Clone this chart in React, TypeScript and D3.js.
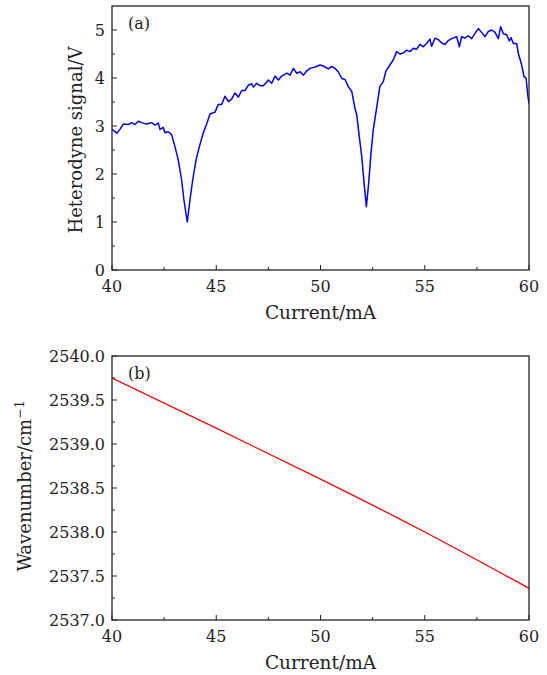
import React from "react";
import * as d3 from "d3";

const currentA = [
  40.0, 40.23, 40.38, 40.54, 40.78, 40.94, 41.1, 41.26, 41.42, 41.66, 41.9, 42.06, 42.22, 42.3, 42.46, 42.54,
  42.7, 42.86, 43.02, 43.18, 43.34, 43.45, 43.61, 43.74, 43.87, 44.03, 44.19, 44.38, 44.54, 44.7, 44.94,
  45.1, 45.26, 45.42, 45.58, 45.74, 45.9, 46.06, 46.22, 46.38, 46.54, 46.7, 46.78, 46.94, 47.1, 47.26,
  47.5, 47.66, 47.82, 47.98, 48.14, 48.38, 48.54, 48.7, 48.86, 49.02, 49.18, 49.34, 49.5, 49.74, 49.98,
  50.13, 50.37, 50.54, 50.7, 50.85, 51.02, 51.18, 51.33, 51.5, 51.65, 51.74, 51.86, 51.98, 52.09, 52.2,
  52.31, 52.42, 52.53, 52.7, 52.85, 53.01, 53.14, 53.33, 53.49, 53.65, 53.81, 53.97, 54.13, 54.29, 54.45,
  54.61, 54.77, 54.93, 55.09, 55.25, 55.33, 55.49, 55.65, 55.81, 55.97, 56.13, 56.29, 56.53, 56.66, 56.77,
  56.93, 57.09, 57.25, 57.41, 57.57, 57.73, 57.89, 58.05, 58.21, 58.37, 58.53, 58.64, 58.77, 58.93, 59.06,
  59.14, 59.25, 59.41, 59.49, 59.65, 59.76, 59.86, 59.94, 60.0,
];
const signalV = [
  2.93, 2.85, 2.93, 3.04, 3.03, 3.07, 3.03, 3.1, 3.07, 3.04, 3.07, 3.02, 3.06, 2.93, 2.97, 2.86,
  2.88, 2.82, 2.57, 2.29, 1.875, 1.46, 1.0, 1.46, 1.875, 2.29, 2.57, 2.86, 3.04, 3.25, 3.29,
  3.45, 3.45, 3.62, 3.51, 3.56, 3.69, 3.6, 3.74, 3.74, 3.85, 3.88, 3.81, 3.89, 3.84, 3.84,
  3.96, 3.89, 4.04, 3.96, 4.04, 4.1, 4.06, 4.2, 4.1, 4.13, 4.06, 4.15, 4.2, 4.23, 4.27,
  4.25, 4.19, 4.24, 4.2, 4.13, 3.99, 3.97, 3.82, 3.72, 3.37, 3.23, 2.78, 2.36, 1.81, 1.32,
  1.81, 2.43, 2.92, 3.4, 3.83, 3.92, 4.15, 4.27, 4.375, 4.55, 4.5, 4.52, 4.58, 4.55, 4.62,
  4.6, 4.7, 4.65, 4.72, 4.81, 4.66, 4.83, 4.8, 4.73, 4.7, 4.78, 4.82, 4.86, 4.65, 4.86,
  4.83, 4.88, 4.82, 4.93, 5.03, 4.95, 4.86, 4.97, 5.0, 4.95, 4.82, 5.07, 4.92, 4.9, 4.77,
  4.84, 4.72, 4.72, 4.51, 4.27, 4.03, 4.0, 3.65, 3.47,
];

const currentB = [40, 45, 50, 55, 60];
const wavenumber = [2539.75, 2539.18, 2538.6, 2538.0, 2537.36];

const xTicks = [40, 45, 50, 55, 60];
const yTicksA = [0, 1, 2, 3, 4, 5];
const yTicksB = [2537.0, 2537.5, 2538.0, 2538.5, 2539.0, 2539.5, 2540.0];

const FONT = "'DejaVu Serif', serif";
const INK = "#222";

const L = 112, R = 529;
const A_TOP = 6, A_BOT = 270;
const B_TOP = 356, B_BOT = 620;

function Frame({ top, bottom, x, y, yMajor, yMinor, yFmt, panel }: any) {
  const xMinor = d3.range(40, 60.01, 2.5).filter((v) => !xTicks.includes(v));
  return (
    <g>
      <rect x={L} y={top} width={R - L} height={bottom - top} fill="none" stroke={INK} strokeWidth={1.3} />
      {xTicks.map((t) => (
        <g key={"xt" + t}>
          <line x1={x(t)} x2={x(t)} y1={bottom} y2={bottom - 5} stroke={INK} strokeWidth={1} />
          <text x={x(t)} y={bottom + 22} textAnchor="middle" fontFamily={FONT} fontSize={16} fill={INK}>
            {t}
          </text>
        </g>
      ))}
      {xMinor.map((t) => (
        <line key={"xm" + t} x1={x(t)} x2={x(t)} y1={bottom} y2={bottom - 3} stroke={INK} strokeWidth={1} />
      ))}
      {yMajor.map((t: number) => (
        <g key={"yt" + t}>
          <line x1={L} x2={L + 5} y1={y(t)} y2={y(t)} stroke={INK} strokeWidth={1} />
          <text x={105} y={y(t)} dy="0.36em" textAnchor="end" fontFamily={FONT} fontSize={16} fill={INK}>
            {yFmt(t)}
          </text>
        </g>
      ))}
      {yMinor.map((t: number) => (
        <line key={"ym" + t} x1={L} x2={L + 3} y1={y(t)} y2={y(t)} stroke={INK} strokeWidth={1} />
      ))}
      <text x={128} y={top + 23} fontFamily={FONT} fontSize={16} fill={INK}>
        {panel}
      </text>
      <text x={(L + R) / 2} y={bottom + 49} textAnchor="middle" fontFamily={FONT} fontSize={18.5} fill={INK}>
        Current/mA
      </text>
    </g>
  );
}

export default function App() {
  const x = d3.scaleLinear().domain([40, 60]).range([L, R]);
  const yA = d3.scaleLinear().domain([0, 5.5]).range([A_BOT, A_TOP]);
  const yB = d3.scaleLinear().domain([2537, 2540]).range([B_BOT, B_TOP]);

  const lineA = d3
    .line<number>()
    .x((_, i) => x(currentA[i]))
    .y((d) => yA(d))(signalV) as string;
  const lineB = d3
    .line<number>()
    .x((_, i) => x(currentB[i]))
    .y((d) => yB(d))
    .curve(d3.curveNatural)(wavenumber) as string;

  const yMinorA = d3.range(0.5, 5.5, 1);
  const yMinorB = d3.range(2537.25, 2540, 0.5);

  return (
    <svg width={547} height={675} style={{ position: "absolute", left: 0, top: 0, background: "#fff" }}>
      <rect width={547} height={675} fill="#fff" />
      <defs>
        <clipPath id="clipA">
          <rect x={L} y={A_TOP} width={R - L} height={A_BOT - A_TOP} />
        </clipPath>
        <clipPath id="clipB">
          <rect x={L} y={B_TOP} width={R - L} height={B_BOT - B_TOP} />
        </clipPath>
      </defs>
      <path d={lineA} fill="none" stroke="#0000ff" strokeWidth={1.5} strokeLinejoin="round" clipPath="url(#clipA)" />
      <path d={lineB} fill="none" stroke="#ff0000" strokeWidth={1.3} clipPath="url(#clipB)" />
      <Frame top={A_TOP} bottom={A_BOT} x={x} y={yA} yMajor={yTicksA} yMinor={yMinorA} yFmt={(t: number) => String(t)} panel="(a)" />
      <Frame top={B_TOP} bottom={B_BOT} x={x} y={yB} yMajor={yTicksB} yMinor={yMinorB} yFmt={(t: number) => t.toFixed(1)} panel="(b)" />
      <text transform="translate(82,140) rotate(-90)" textAnchor="middle" fontFamily={FONT} fontSize={18} fill={INK}>
        Heterodyne signal/V
      </text>
      <text transform="translate(31,486) rotate(-90)" textAnchor="middle" fontFamily={FONT} fontSize={18} fill={INK}>
        Wavenumber/cm
        <tspan fontSize={12.5} dy="-0.6em">−1</tspan>
      </text>
    </svg>
  );
}
